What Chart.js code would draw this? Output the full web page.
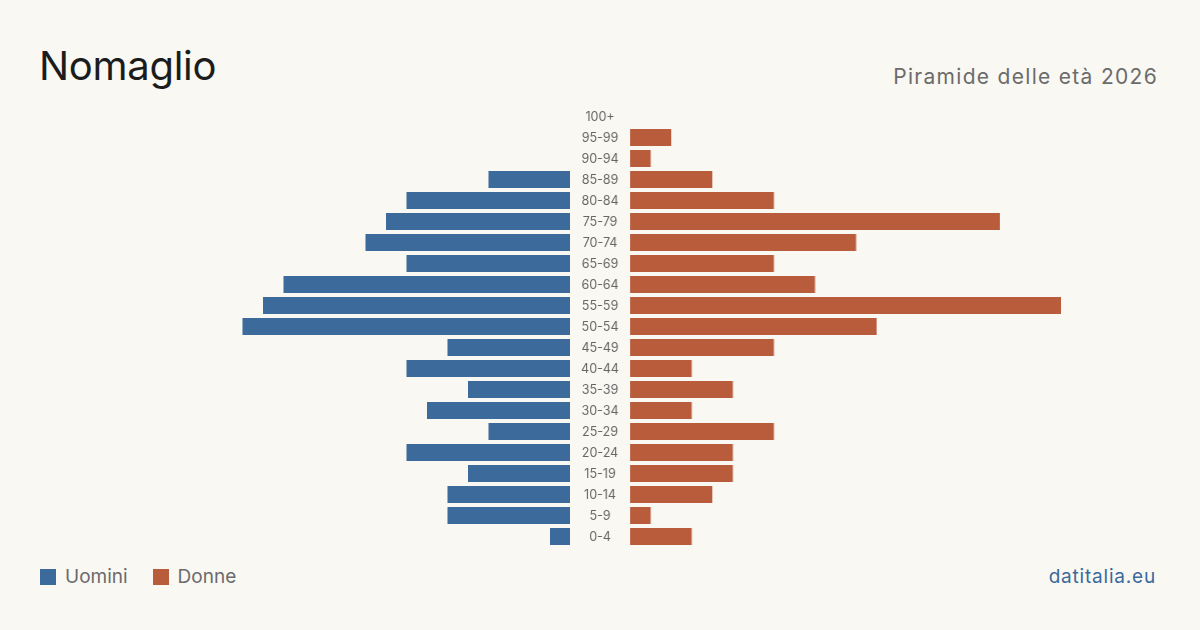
<!DOCTYPE html>
<html>
<head>
<meta charset="utf-8">
<script src="https://cdn.jsdelivr.net/npm/chart.js@4.4.1/dist/chart.umd.min.js"></script>
<style>
  html, body { margin: 0; padding: 0; }
  body {
    width: 1200px; height: 630px; position: relative; overflow: hidden;
    background: #f9f8f3; font-family: Inter, "Noto Sans", sans-serif;
  }
  .title { position: absolute; left: 39px; top: 42px; font-size: 40px; line-height: 48px; color: #1c1c1c; letter-spacing: -0.3px; }
  .subtitle { position: absolute; right: 42px; top: 64px; font-size: 21px; line-height: 26px; color: #6b6b6b; letter-spacing: 1.3px; }
  .legend { position: absolute; left: 40px; top: 566px; font-size: 19px; line-height: 22px; color: #6b6b6b; display: flex; }
  .legend span.item { display: flex; align-items: center; margin-right: 25px; }
  .legend i { display: inline-block; width: 16px; height: 16px; margin-right: 9px; }
  .source { position: absolute; right: 44px; top: 565px; font-size: 19px; line-height: 24px; color: #3a6a9c; letter-spacing: 0.8px; }
  .wrap { position: absolute; top: 105.5px; height: 441px; }
</style>
</head>
<body>
<div class="title">Nomaglio</div>
<div class="subtitle">Piramide delle età 2026</div>
<div class="wrap" style="left:139.5px;width:430.5px"><canvas id="men"></canvas></div>
<div class="wrap" style="left:570px;width:490.5px"><canvas id="women"></canvas></div>
<div class="legend">
  <span class="item"><i style="background:#3b6a9b"></i>Uomini</span>
  <span class="item"><i style="background:#b95c3c"></i>Donne</span>
</div>
<div class="source">datitalia.eu</div>
<script>
const ageGroups = ["100+", "95-99", "90-94", "85-89", "80-84", "75-79", "70-74", "65-69", "60-64", "55-59",
  "50-54", "45-49", "40-44", "35-39", "30-34", "25-29", "20-24", "15-19", "10-14", "5-9", "0-4"];
const men = [0, 0, 0, 4, 8, 9, 10, 8, 14, 15, 16, 6, 8, 5, 7, 4, 8, 5, 6, 6, 1];
const women = [0, 2, 1, 4, 7, 18, 11, 7, 9, 21, 12, 7, 3, 5, 3, 7, 5, 5, 4, 1, 3];
const maxValue = 21;

const blue = "#3b6a9b";
const orange = "#b95c3c";

Chart.defaults.font.family = "Inter, 'Noto Sans', sans-serif";
Chart.defaults.animation = false;

// age labels drawn in the gap left of the women's bars
const ageLabels = {
  id: "ageLabels",
  afterDraw(chart) {
    const { ctx, chartArea, scales } = chart;
    ctx.save();
    ctx.fillStyle = "#666";
    ctx.font = "12.5px Inter, 'Noto Sans', sans-serif";
    ctx.textAlign = "center";
    ctx.textBaseline = "middle";
    chart.data.labels.forEach((label, i) => {
      ctx.fillText(label, chartArea.left - 30, scales.y.getPixelForValue(i) + 1);
    });
    ctx.restore();
  },
};

function baseOptions(reverse, padLeft) {
  return {
    indexAxis: "y",
    responsive: true,
    maintainAspectRatio: false,
    layout: { padding: { left: padLeft, right: 0, top: 0, bottom: 0 } },
    plugins: { legend: { display: false }, tooltip: { enabled: false } },
    scales: {
      x: { display: false, min: 0, max: maxValue, reverse: reverse },
      y: { display: false, grid: { display: false } },
    },
  };
}

new Chart("men", {
  type: "bar",
  data: {
    labels: ageGroups,
    datasets: [{ label: "Uomini", data: men, backgroundColor: blue, barPercentage: 0.81, categoryPercentage: 1 }],
  },
  options: baseOptions(true, 0),
});

new Chart("women", {
  type: "bar",
  data: {
    labels: ageGroups,
    datasets: [{ label: "Donne", data: women, backgroundColor: orange, barPercentage: 0.81, categoryPercentage: 1 }],
  },
  options: baseOptions(false, 60),
  plugins: [ageLabels],
});
</script>
</body>
</html>
